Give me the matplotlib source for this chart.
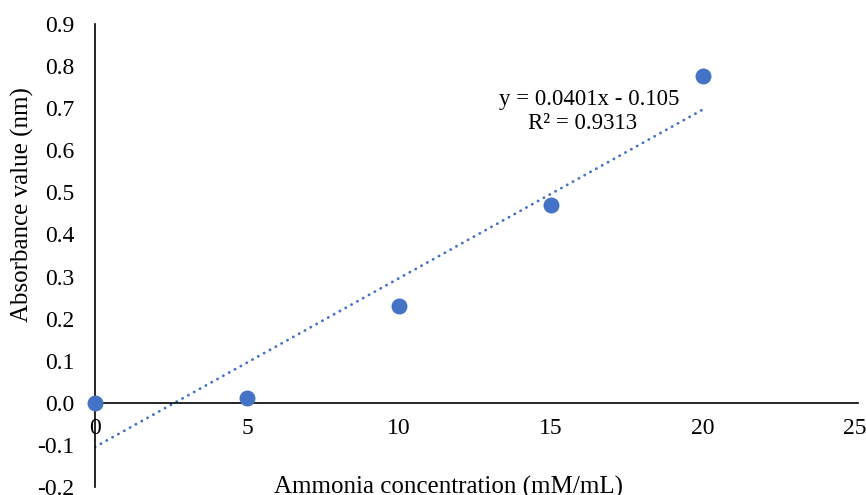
import numpy as np
from matplotlib import pyplot as plt

# datos
concentracion = [0, 5, 10, 15, 20]
absorbancia = [0.0, 0.012, 0.230, 0.470, 0.777]

# recta de tendencia (segun la etiqueta)
pendiente = 0.0401
ordenada = -0.105
ecuacion = "y = 0.0401x - 0.105"
r2_texto = "R² = 0.9313"

x_ticks = [0, 5, 10, 15, 20, 25]
y_ticks = [-0.2, -0.1, 0.0, 0.1, 0.2, 0.3, 0.4, 0.5, 0.6, 0.7, 0.8, 0.9]

azul = "#4472C4"

plt.rcParams["font.family"] = ["Liberation Serif", "DejaVu Serif"]

fig = plt.figure(figsize=(8.66, 4.95), dpi=100)
ax = fig.add_axes([95 / 866, 8 / 495, 760 / 866, 463 / 495])

# linea de tendencia punteada
xs = np.array([concentracion[0], concentracion[-1]])
ax.plot(xs, pendiente * xs + ordenada, color=azul, linewidth=2.0,
        linestyle=(0, (0.1, 2.3)), dash_capstyle="round", zorder=2)

ax.scatter(concentracion, absorbancia, s=110, color=azul, zorder=3,
           clip_on=False)

ax.set_xlim(0, 25)
ax.set_ylim(-0.2, 0.9)
ax.set_xticks(x_ticks)
ax.set_yticks(y_ticks)
ax.set_yticklabels([f"{v:.1f}" for v in y_ticks])

ax.spines["top"].set_visible(False)
ax.spines["right"].set_visible(False)
ax.spines["bottom"].set_position(("data", 0))
ax.spines["left"].set_position(("data", 0))
ax.spines["bottom"].set_bounds(0, 25.1)
for s in ["bottom", "left"]:
    ax.spines[s].set_linewidth(1.2)
    ax.spines[s].set_color("black")

ax.tick_params(axis="x", length=0, pad=11, labelsize=17)
ax.tick_params(axis="y", length=0, pad=15, labelsize=17)

ax.text(16.25, 0.72, ecuacion, ha="center", va="center", fontsize=16.5)
ax.text(16.05, 0.663, r2_texto, ha="center", va="center", fontsize=16.5)

fig.text(22 / 866, 1 - 205 / 495, "Absorbance value (nm)", rotation=90,
         ha="center", va="center", fontsize=18)
fig.text(449 / 866, 1 - 487 / 495, "Ammonia concentration (mM/mL)",
         ha="center", va="center", fontsize=18)

fig.savefig("out.png", dpi=100)
